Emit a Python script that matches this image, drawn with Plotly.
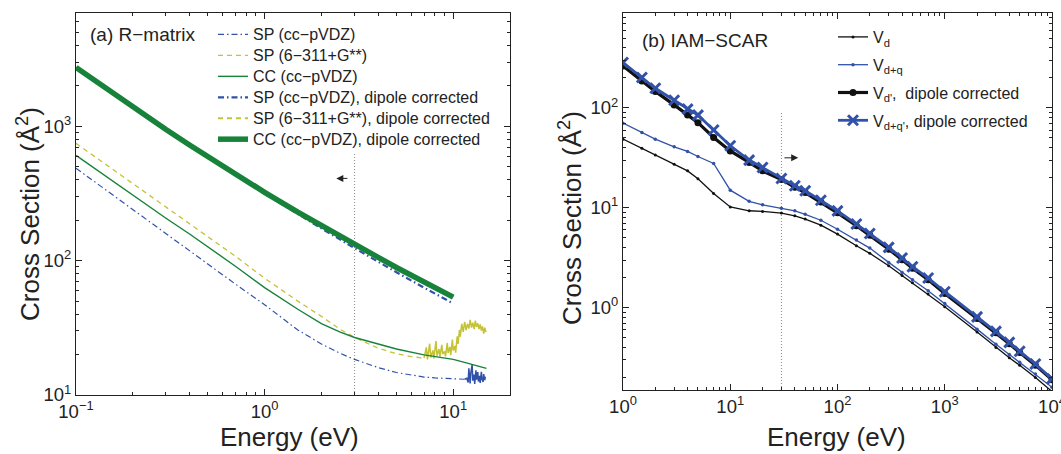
import numpy as np
import plotly.graph_objects as go

W, H = 1061, 454
FONT = "Liberation Sans, Arial, Helvetica, sans-serif"
BLUE = "#3152A8"
GREEN = "#17823A"
YELLOW = "#C4C236"
DOT = "#8a8a8a"

# ---------------- (a) R-matrix data ----------------
E_sp_cc = [0.1, 0.15, 0.2, 0.3, 0.4, 0.5, 0.7, 1, 1.5, 2, 2.5, 3, 4, 5, 6, 7, 8, 10, 11.5]
sp_cc = [488, 322, 240, 160, 119, 95, 67, 47, 30.5, 24, 20.5, 18.4, 16.0, 14.7, 14.0,
         13.6, 13.4, 13.2, 13.1]
E_sp_cc_noise = [11.5, 11.8, 12.0, 12.1, 12.3, 12.4, 12.6, 12.7, 12.9, 13.0, 13.2, 13.3,
                 13.5, 13.6, 13.8, 13.9, 14.1, 14.2, 14.4, 14.5, 14.7, 14.8]
sp_cc_noise = [13.1, 13.3, 12.4, 15.8, 12.2, 14.6, 16.9, 12.8, 14.2, 12.1, 15.3, 13.0,
               14.8, 12.6, 13.9, 12.3, 14.9, 13.2, 12.5, 14.3, 12.9, 13.7]

E_cc = [0.1, 0.15, 0.2, 0.3, 0.4, 0.5, 0.7, 1, 1.5, 2, 2.5, 3, 4, 5, 7, 10, 12, 15]
cc = [608, 408, 308, 207, 158, 127, 91, 63, 43.5, 34, 29.5, 26.8, 23.8, 22.0, 19.9,
      18.4, 17.2, 15.8]

E_sp6 = [0.1, 0.15, 0.2, 0.3, 0.4, 0.5, 0.7, 1, 1.5, 2, 2.5, 3, 4, 5, 6, 7]
sp6 = [748, 500, 378, 252, 190, 152, 108, 74, 50, 38.5, 31, 26.8, 22.3, 20.3, 19.3, 18.8]
E_sp6_noise = [7.0, 7.2, 7.3, 7.5, 7.6, 7.8, 7.9, 8.1, 8.2, 8.4, 8.5, 8.7, 8.8, 9.0, 9.1,
               9.3, 9.4, 9.6, 9.7, 9.9, 10.0, 10.2, 10.3, 10.5, 10.6, 10.8, 10.9, 11.1,
               11.3, 11.5, 11.7, 11.9, 12.1, 12.3, 12.5, 12.7, 12.9, 13.1, 13.3, 13.5,
               13.7, 13.9, 14.1, 14.3, 14.5, 14.7, 14.9]
sp6_noise = [18.8, 22.6, 18.4, 24.1, 19.0, 21.5, 18.7, 25.2, 19.6, 22.0, 19.3, 23.6,
             20.2, 21.1, 19.4, 24.4, 20.6, 22.8, 19.8, 25.9, 21.4, 23.2, 20.7, 27.4,
             24.0, 30.6, 27.2, 33.8, 29.5, 35.1, 30.4, 33.9, 31.2, 36.3, 31.8, 34.6,
             30.9, 35.8, 32.1, 34.2, 31.0, 33.6, 30.2, 32.4, 28.6, 31.7, 29.4]

E_dip = [0.1, 0.15, 0.2, 0.3, 0.4, 0.5, 0.7, 1, 1.5, 2, 3, 4, 5, 7, 10]
sp_cc_dip = [2740, 1830, 1383, 941, 720, 586, 433, 316, 222, 174, 124, 98, 82, 63, 48]
sp6_dip = [2745, 1840, 1395, 953, 732, 598, 446, 329, 234, 185, 134, 106, 89.5, 70, 53.4]
cc_dip = [2750, 1837, 1390, 948, 727, 593, 440, 323, 230, 182, 133, 106, 89, 69.5, 53.6]

E_cut_a = [3, 3]
y_cut_a = [10, 630]
arrow_a = dict(head_E=2.40, tail_E=2.80, y=410)

# ---------------- (b) IAM-SCAR data ----------------
E_b = [1, 1.5, 2, 3, 4, 5, 7, 10, 15, 20, 30, 40, 50, 70, 100, 150, 200, 300, 400,
       500, 700, 1000, 2000, 3000, 4000, 5000, 7000, 10000]
Vd = [48.6, 39.3, 33.7, 27.3, 23.4, 19.5, 13.9, 10.2, 9.33, 9.2, 8.85, 8.3, 7.7, 6.7,
      5.45, 4.17, 3.5, 2.63, 2.1, 1.78, 1.37, 1.02, 0.57, 0.40, 0.315, 0.265, 0.2, 0.145]
Vdq = [70.3, 56.6, 48.6, 40.7, 36.6, 32.6, 27.8, 15.0, 11.6, 10.7, 9.9, 9.33, 8.6, 7.5,
       6.1, 4.75, 3.95, 2.84, 2.25, 1.9, 1.48, 1.1, 0.61, 0.43, 0.34, 0.285, 0.217, 0.16]
Vd_dip = [263, 186, 146, 107, 85, 71, 50.5, 37, 28.4, 23.4, 19.2, 16.0, 14.2, 11.4, 8.9,
          6.6, 5.3, 3.85, 3.02, 2.48, 1.9, 1.39, 0.78, 0.56, 0.435, 0.355, 0.266, 0.19]
Vdq_dip = [284, 201, 157, 119, 97, 84.5, 60, 41.7, 30, 25.3, 19.6, 16.6, 14.8, 11.9, 9.3,
           6.87, 5.53, 4.01, 3.14, 2.57, 1.98, 1.445, 0.81, 0.58, 0.45, 0.366, 0.273, 0.194]

E_cut_b = [30, 30]
y_cut_b = [0.15, 93]
arrow_b = dict(head_E=43, tail_E=31, y=31.6)

xa_ticks = [0.1, 1, 10]
xa_text = ["10<sup>−1</sup>", "10<sup>0</sup>", "10<sup>1</sup>"]
ya_ticks = [10, 100, 1000]
ya_text = ["10<sup>1</sup>", "10<sup>2</sup>", "10<sup>3</sup>"]
xb_ticks = [1, 10, 100, 1000, 10000]
xb_text = ["10<sup>0</sup>", "10<sup>1</sup>", "10<sup>2</sup>", "10<sup>3</sup>", "10<sup>4</sup>"]
yb_ticks = [1, 10, 100]
yb_text = ["10<sup>0</sup>", "10<sup>1</sup>", "10<sup>2</sup>"]

names_a = ["SP (cc−pVDZ)", "SP (6−311+G**)", "CC (cc−pVDZ)",
           "SP (cc−pVDZ), dipole corrected", "SP (6−311+G**), dipole corrected",
           "CC (cc−pVDZ), dipole corrected"]
names_b = ["V<sub>d</sub>", "V<sub>d+q</sub>", "V<sub>d'</sub>,  dipole corrected",
           "V<sub>d+q'</sub>, dipole corrected"]


def big(s):
    return "<span style='font-size:16px'>" + s + "</span>"


def minor_ticks(lo_exp, hi_exp, lo=None, hi=None):
    vals = [m * 10.0 ** e for e in range(lo_exp, hi_exp) for m in range(2, 10)]
    return [v for v in vals if (lo is None or v >= lo) and (hi is None or v <= hi)]


fig = go.Figure()


def L(E, y, name, color, width, dash="solid", legend="legend", show=True, xa="x", ya="y",
      mode="lines", marker=None, group=None):
    fig.add_trace(go.Scatter(x=E, y=y, name=name, mode=mode, xaxis=xa, yaxis=ya,
                             line=dict(color=color, width=width, dash=dash),
                             marker=marker, legend=legend, showlegend=show,
                             legendgroup=group))


DASHDOT = "6px,3px,1.5px,3px"
DASH = "5px,4px"
DOTTED = "1px,2px"
# (a)
L(E_cut_a, y_cut_a, "", DOT, 1, dash=DOTTED, show=False)
L(E_sp_cc, sp_cc, big(names_a[0]), BLUE, 1.2, DASHDOT)
L(E_sp_cc_noise, sp_cc_noise, "", BLUE, 1.5, "solid", show=False)
L(E_sp6, sp6, big(names_a[1]), YELLOW, 1.3, DASH)
L(E_sp6_noise, sp6_noise, "", YELLOW, 1.5, "solid", show=False)
L(E_cc, cc, big(names_a[2]), GREEN, 1.4)
L(E_dip, sp_cc_dip, big(names_a[3]), BLUE, 2.2, DASHDOT)
L(E_dip, sp6_dip, big(names_a[4]), YELLOW, 2.2, DASH)
L(E_dip, cc_dip, big(names_a[5]), GREEN, 5.5)

# (b)
L(E_cut_b, y_cut_b, "", DOT, 1, dash=DOTTED, show=False, xa="x2", ya="y2")
L(E_b, Vd, names_b[0], "#111111", 1.3, legend="legend2", xa="x2", ya="y2",
  mode="lines+markers", marker=dict(size=3, color="#111111"), group="g1")
L(E_b, Vdq, names_b[1], BLUE, 1.3, legend="legend2", xa="x2", ya="y2",
  mode="lines+markers", marker=dict(size=3.5, color=BLUE), group="g2")
L(E_b, Vd_dip, names_b[2], "#111111", 3.2, legend="legend2",
  xa="x2", ya="y2", mode="lines+markers", marker=dict(size=7, color="#111111"), group="g3")
L(E_b, Vdq_dip, names_b[3], BLUE, 2.8, legend="legend2",
  xa="x2", ya="y2", mode="lines+markers",
  marker=dict(size=10, color=BLUE, symbol="x-thin", line=dict(width=3, color=BLUE)), group="g4")


def px(x):
    return x / W


def py(y):
    return 1 - y / H


def axis(minvals):
    return dict(type="log", showline=True, linecolor="#222", linewidth=1, mirror="allticks",
                ticks="inside", ticklen=6, tickcolor="#222", showgrid=False, zeroline=False,
                automargin=False, ticklabeloverflow="allow",
                tickfont=dict(family=FONT, size=18.5, color="#222"),
                minor=dict(ticks="inside", ticklen=3, tickcolor="#222", showgrid=False,
                           tickmode="array", tickvals=minvals))


fig.update_layout(
    width=W, height=H, margin=dict(l=0, r=0, t=0, b=0),
    paper_bgcolor="white", plot_bgcolor="white",
    font=dict(family=FONT, color="#222"),
    xaxis=dict(axis(minor_ticks(-1, 2, hi=20)), domain=[px(76), px(510)],
               range=[-1, np.log10(20)], tickvals=xa_ticks, ticktext=xa_text, anchor="y"),
    yaxis=dict(axis(minor_ticks(1, 4, hi=7000)), domain=[py(395), py(12.5)], range=[1, 3.848],
               tickvals=ya_ticks, ticktext=ya_text, anchor="x"),
    xaxis2=dict(axis(minor_ticks(0, 4)), domain=[px(623), px(1052)], range=[0, 4],
                tickvals=xb_ticks, ticktext=xb_text, anchor="y2"),
    yaxis2=dict(axis(minor_ticks(-1, 3, lo=0.15, hi=900)), domain=[py(390), py(12.5)],
                range=[np.log10(0.15), np.log10(900)],
                tickvals=yb_ticks, ticktext=yb_text, anchor="x2"),
    legend=dict(x=px(213), y=py(19), xanchor="left", yanchor="top", bgcolor="rgba(0,0,0,0)",
                font=dict(family=FONT, size=13.8, color="#222"), itemwidth=30, tracegroupgap=0),
    legend2=dict(x=px(833), y=py(20), xanchor="left", yanchor="top", bgcolor="rgba(0,0,0,0)",
                 font=dict(family=FONT, size=16, color="#222"), itemwidth=30,
                 traceorder="grouped", tracegroupgap=4),
    showlegend=True,
)

ann = []
ann.append(dict(text="(a) R−matrix", x=px(88), y=py(34), xref="paper", yref="paper",
                xanchor="left", yanchor="middle", showarrow=False, font=dict(size=19, family=FONT)))
ann.append(dict(text="(b) IAM−SCAR", x=px(640), y=py(40), xref="paper", yref="paper",
                xanchor="left", yanchor="middle", showarrow=False, font=dict(size=19, family=FONT)))
for cx in (px(289), px(836)):
    ann.append(dict(text="Energy (eV)", x=cx, y=py(437), xref="paper", yref="paper",
                    xanchor="center", yanchor="middle", showarrow=False, font=dict(size=26, family=FONT)))
for cx, cy in ((px(28), py(214)), (px(571), py(218))):
    ann.append(dict(text="Cross Section (Å<sup>2</sup>)", x=cx, y=cy, xref="paper", yref="paper",
                    textangle=-90, xanchor="center", yanchor="middle", showarrow=False,
                    font=dict(size=26, family=FONT)))
ann.append(dict(x=np.log10(arrow_a["head_E"]), y=np.log10(arrow_a["y"]), xref="x", yref="y",
                ax=np.log10(arrow_a["tail_E"]), ay=np.log10(arrow_a["y"]), axref="x", ayref="y",
                text="", showarrow=True, arrowhead=2, arrowsize=1.4, arrowwidth=1, arrowcolor="#222"))
ann.append(dict(x=np.log10(arrow_b["head_E"]), y=np.log10(arrow_b["y"]), xref="x2", yref="y2",
                ax=np.log10(arrow_b["tail_E"]), ay=np.log10(arrow_b["y"]), axref="x2", ayref="y2",
                text="", showarrow=True, arrowhead=2, arrowsize=1.4, arrowwidth=1, arrowcolor="#222"))
fig.update_layout(annotations=ann)

fig.write_html("out.html")
